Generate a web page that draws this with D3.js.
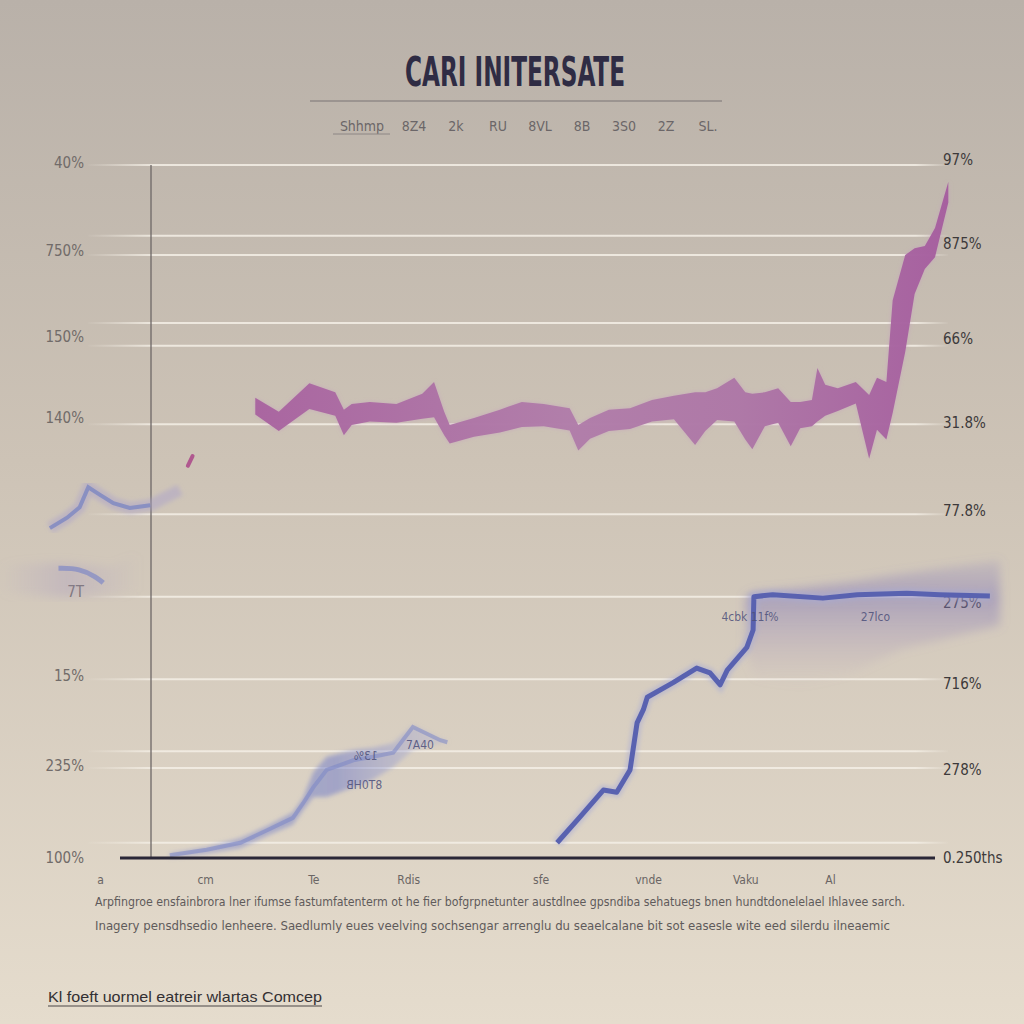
<!DOCTYPE html>
<html>
<head>
<meta charset="utf-8">
<script src="https://cdn.jsdelivr.net/npm/d3@7"></script>
<style>
  body { margin: 0; padding: 0; overflow: hidden; }
  svg { display: block; }
  .narrow { font-family: 'DejaVu Sans', sans-serif; font-stretch: condensed; }
</style>
</head>
<body>
<div id="chart"></div>
<script>
// chart values
var title = 'CARI INITERSATE';
var subtitleItems = ['Shhmp', '8Z4', '2k', 'RU', '8VL', '8B', '3S0', '2Z', 'SL.'];

var gridValues = [100, 89.8, 87.0, 77.2, 73.9, 62.6, 49.6, 37.7, 25.8, 15.4, 13.0, 2.2];

var leftTickValues = [100.4, 87.7, 75.2, 63.5, 38.4, 26.3, 13.3, 0];
var leftTickLabels = ['40%', '750%', '150%', '140%', '7T', '15%', '235%', '100%'];
var rightTickValues = [100.7, 88.7, 75.0, 62.8, 50.1, 36.9, 25.1, 12.7, 0];
var rightTickLabels = ['97%', '875%', '66%', '31.8%', '77.8%', '275%', '716%', '278%', '0.250ths'];

var xTickValues = [-6.5, 6.9, 20.7, 32.8, 49.7, 63.4, 75.8, 86.6];
var xTickLabels = ['a', 'cm', 'Te', 'Rdis', 'sfe', 'vnde', 'Vaku', 'Al'];

// pink ribbon: x, upper edge, lower edge
var pinkX = [13.3, 16.3, 20.2, 23.5, 24.6, 25.6, 27.9, 31.3, 34.6, 36.1, 37.4, 38.1, 41.2, 44.5, 47.3, 50.1, 53.4, 54.5, 56.0, 58.4, 61.1, 63.9, 66.7, 69.4, 70.7, 72.2, 74.4, 75.8, 76.7, 78.3, 80.0, 81.6, 82.8, 84.3, 85.0, 86.0, 87.6, 89.9, 91.6, 92.6, 93.8, 94.6, 96.2, 97.4, 98.7, 100.0, 101.7];
var pinkHigh = [66.4, 64.4, 68.5, 67.2, 64.7, 65.5, 65.8, 65.5, 67.0, 68.7, 64.4, 62.5, 63.5, 64.7, 65.8, 65.5, 64.9, 62.5, 63.5, 64.7, 64.9, 66.1, 66.7, 67.2, 67.2, 67.8, 69.3, 67.2, 67.0, 67.2, 67.8, 65.8, 65.8, 66.1, 70.7, 68.3, 67.8, 68.7, 66.8, 69.3, 68.7, 80.5, 87.0, 88.0, 88.3, 90.9, 97.6];
var pinkLow = [64.0, 61.6, 64.8, 63.8, 61.0, 62.5, 63.0, 62.8, 63.4, 63.6, 61.0, 59.8, 60.8, 61.4, 62.2, 62.3, 61.7, 58.8, 60.5, 61.6, 61.9, 63.0, 63.3, 59.6, 61.6, 63.2, 63.0, 60.4, 59.0, 62.3, 62.8, 59.4, 62.0, 62.3, 63.0, 63.8, 64.5, 65.6, 57.6, 61.8, 60.4, 64.2, 73.0, 81.4, 85.0, 86.7, 94.6];
var pinkSpeck = [[4.7, 56.6], [5.3, 58.0]];

// blue line, right part
var blueX = [51.8, 54.7, 57.7, 59.4, 61.1, 62.0, 62.8, 63.3, 66.6, 69.6, 71.3, 72.6, 73.5, 76.0, 76.8, 76.9, 79.3, 85.7, 90.1, 96.4, 100.6, 107.0];
var blueY = [2.2, 5.9, 9.8, 9.5, 12.7, 19.5, 21.4, 23.2, 25.3, 27.4, 26.7, 25.0, 27.1, 30.4, 32.9, 37.7, 38.0, 37.5, 38.0, 38.2, 38.0, 37.8];
// haze around the plateau
var hazeX = [75.8, 77.0, 82.8, 90.0, 95.5, 108.3];
var hazeHigh = [37.7, 38.4, 39.0, 40.0, 41.0, 43.0];
var hazeLow = [30.0, 26.0, 24.6, 27.0, 30.0, 33.5];

// blue blob, lower left
var blobX = [2.4, 7.1, 11.4, 14.8, 18.1, 19.4, 20.7, 22.4, 25.8, 28.3, 30.9, 33.4, 36.9, 37.8];
var blobHigh = [0.7, 1.6, 2.9, 4.6, 6.6, 8.7, 12.4, 14.6, 15.6, 15.9, 16.6, 19.2, 17.3, 17.0];
var blobLow = [0, 0.6, 1.4, 3.2, 4.8, 6.9, 8.8, 8.8, 10.2, 11.3, 13.1, 15.6, 16.5, 16.6];
var blobLineY = [0.4, 1.2, 2.2, 4.0, 5.8, 7.9, 10.2, 12.7, 14.1, 14.6, 15.2, 18.9, 17.0, 16.7];

// blue smear left of the axis
var smearX = [-12.9, -10.7, -9.1, -8.0, -6.5, -4.8, -2.7, -0.1, 3.7];
var smearY = [47.6, 49.1, 50.6, 53.5, 52.4, 51.2, 50.5, 50.9, 53.1];
var arcX = [-11.8, -9.1, -6.9, -6.1];
var arcY = [41.8, 41.8, 40.5, 39.7];
var smearHazeX = [-19.3, -12.0, -5.0, -1.5];
var smearHazeHigh = [42.3, 42.6, 42.0, 44.0];
var smearHazeLow = [38.2, 37.6, 37.9, 38.5];

var annotations = [
  { x: 76.4, y: 34.2, text: '4cbk 11f%', flip: false },
  { x: 92.4, y: 34.2, text: '27lco', flip: false },
  { x: 27.4, y: 14.2, text: '13%', flip: true },
  { x: 27.2, y: 10.0, text: '8T0HB', flip: true },
  { x: 34.3, y: 15.8, text: '7A40', flip: false }
];

var noteLines = [
  'Arpfingroe ensfainbrora lner ifumse fastumfatenterm ot he fier bofgrpnetunter austdlnee gpsndiba sehatuegs bnen hundtdonelelael Ihlavee sarch.',
  'Inagery pensdhsedio lenheere.  Saedlumly eues veelving sochsengar arrenglu du seaelcalane bit sot easesle wite eed silerdu ilneaemic'
];
var footer = 'Kl foeft uormel eatreir wlartas Comcep';

var width = 1024, height = 1024;

var svg = d3.select('#chart').append('svg')
  .attr('width', width)
  .attr('height', height);

var defs = svg.append('defs');

var bg = defs.append('linearGradient').attr('id', 'bg').attr('x1', 0).attr('y1', 0).attr('x2', 0).attr('y2', 1);
bg.append('stop').attr('offset', '0%').attr('stop-color', '#b9b1a9');
bg.append('stop').attr('offset', '45%').attr('stop-color', '#cdc3b6');
bg.append('stop').attr('offset', '100%').attr('stop-color', '#e5dccd');

var gridGrad = defs.append('linearGradient').attr('id', 'gridGrad')
  .attr('gradientUnits', 'userSpaceOnUse').attr('x1', 85).attr('x2', 950).attr('y1', 0).attr('y2', 0);
gridGrad.append('stop').attr('offset', '0%').attr('stop-color', '#f4efe6').attr('stop-opacity', 0);
gridGrad.append('stop').attr('offset', '8%').attr('stop-color', '#f4efe6').attr('stop-opacity', 0.85);
gridGrad.append('stop').attr('offset', '96%').attr('stop-color', '#f4efe6').attr('stop-opacity', 0.85);
gridGrad.append('stop').attr('offset', '100%').attr('stop-color', '#f4efe6').attr('stop-opacity', 0);

var hazeGrad = defs.append('linearGradient').attr('id', 'hazeGrad').attr('x1', 0).attr('y1', 0).attr('x2', 0).attr('y2', 1);
hazeGrad.append('stop').attr('offset', '0%').attr('stop-color', '#7d74b8').attr('stop-opacity', 0.15);
hazeGrad.append('stop').attr('offset', '30%').attr('stop-color', '#7d74b8').attr('stop-opacity', 0.45);
hazeGrad.append('stop').attr('offset', '100%').attr('stop-color', '#b49ab8').attr('stop-opacity', 0);

var blobGrad = defs.append('linearGradient').attr('id', 'blobGrad').attr('x1', 0).attr('y1', 0).attr('x2', 1).attr('y2', 0);
blobGrad.append('stop').attr('offset', '0%').attr('stop-color', '#8a92cc').attr('stop-opacity', 0.5);
blobGrad.append('stop').attr('offset', '60%').attr('stop-color', '#7d86c8').attr('stop-opacity', 0.6);
blobGrad.append('stop').attr('offset', '100%').attr('stop-color', '#a8acd8').attr('stop-opacity', 0.25);

var smearGrad = defs.append('linearGradient').attr('id', 'smearGrad').attr('x1', 0).attr('y1', 0).attr('x2', 1).attr('y2', 0);
smearGrad.append('stop').attr('offset', '0%').attr('stop-color', '#a99bc0').attr('stop-opacity', 0);
smearGrad.append('stop').attr('offset', '50%').attr('stop-color', '#a99bc0').attr('stop-opacity', 0.35);
smearGrad.append('stop').attr('offset', '100%').attr('stop-color', '#a99bc0').attr('stop-opacity', 0);

var pinkGrad = defs.append('linearGradient').attr('id', 'pinkGrad').attr('x1', 0).attr('y1', 0).attr('x2', 1).attr('y2', 0);
pinkGrad.append('stop').attr('offset', '0%').attr('stop-color', '#a8629f');
pinkGrad.append('stop').attr('offset', '45%').attr('stop-color', '#b07ca9');
pinkGrad.append('stop').attr('offset', '70%').attr('stop-color', '#ad76a6');
pinkGrad.append('stop').attr('offset', '100%').attr('stop-color', '#a55c9e');

defs.append('filter').attr('id', 'soft').append('feGaussianBlur').attr('stdDeviation', 2.2);
defs.append('filter').attr('id', 'softer').append('feGaussianBlur').attr('stdDeviation', 5);

svg.append('rect').attr('width', width).attr('height', height).attr('fill', 'url(#bg)');

var x = d3.scaleLinear().domain([0, 100]).range([151, 935]);
var y = d3.scaleLinear().domain([0, 100]).range([858, 165]);

// title block
svg.append('text')
  .attr('class', 'narrow')
  .attr('x', 515).attr('y', 86)
  .attr('text-anchor', 'middle')
  .attr('font-weight', 'bold')
  .attr('font-size', 40)
  .attr('textLength', 220)
  .attr('lengthAdjust', 'spacingAndGlyphs')
  .attr('fill', '#2f2c44')
  .text(title);

svg.append('line')
  .attr('x1', 310).attr('x2', 722).attr('y1', 101).attr('y2', 101)
  .attr('stroke', '#7b7574').attr('stroke-width', 1.2);

var subX = d3.scalePoint().domain(subtitleItems).range([362, 698]);
svg.append('g').selectAll('text')
  .data(subtitleItems)
  .enter().append('text')
  .attr('class', 'narrow')
  .attr('x', d => subX(d) + (d === 'Shhmp' ? 0 : 10))
  .attr('y', 131)
  .attr('text-anchor', 'middle')
  .attr('font-size', 14)
  .attr('fill', '#6b6668')
  .text(d => d);
svg.append('line')
  .attr('x1', 333).attr('x2', 390).attr('y1', 134).attr('y2', 134)
  .attr('stroke', '#8c8684').attr('stroke-width', 1);

// grid
svg.append('g').selectAll('line')
  .data(gridValues)
  .enter().append('line')
  .attr('x1', 88).attr('x2', 948)
  .attr('y1', d => y(d)).attr('y2', d => y(d))
  .attr('stroke', 'url(#gridGrad)')
  .attr('stroke-width', 2);

// left axis
var leftAxis = d3.axisLeft(y)
  .tickValues(leftTickValues)
  .tickSize(0)
  .tickPadding(0)
  .tickFormat((d, i) => leftTickLabels[i]);
var gl = svg.append('g').attr('transform', 'translate(84,0)').call(leftAxis);
gl.select('.domain').remove();
gl.selectAll('text')
  .attr('class', 'narrow')
  .attr('font-size', 15)
  .attr('fill', '#716b69');

// right axis
var rightAxis = d3.axisRight(y)
  .tickValues(rightTickValues)
  .tickSize(0)
  .tickPadding(0)
  .tickFormat((d, i) => rightTickLabels[i]);
var gr = svg.append('g').attr('transform', 'translate(943,0)').call(rightAxis);
gr.select('.domain').remove();
gr.selectAll('text')
  .attr('class', 'narrow')
  .attr('font-size', 15)
  .attr('fill', '#3d3a3b');

// vertical axis line
svg.append('line')
  .attr('x1', x(0)).attr('x2', x(0))
  .attr('y1', y(100)).attr('y2', y(0))
  .attr('stroke', '#6d6766').attr('stroke-width', 1.3);

// left smear
var smearHaze = d3.area()
  .x(d => x(d[0])).y0(d => y(d[1])).y1(d => y(d[2]));
svg.append('path')
  .datum(smearHazeX.map((v, i) => [v, smearHazeLow[i], smearHazeHigh[i]]))
  .attr('d', smearHaze)
  .attr('fill', 'url(#smearGrad)')
  .attr('filter', 'url(#softer)');

var line = d3.line().x(d => x(d[0])).y(d => y(d[1]));
svg.append('path')
  .datum(smearX.map((v, i) => [v, smearY[i]]))
  .attr('d', line)
  .attr('fill', 'none')
  .attr('stroke', '#a9a0cc')
  .attr('stroke-width', 12)
  .attr('stroke-opacity', 0.45)
  .attr('filter', 'url(#soft)');
svg.append('path')
  .datum(smearX.slice(0, 8).map((v, i) => [v, smearY[i]]))
  .attr('d', line)
  .attr('fill', 'none')
  .attr('stroke', '#7480c2')
  .attr('stroke-width', 4)
  .attr('stroke-opacity', 0.7);
svg.append('path')
  .datum(arcX.map((v, i) => [v, arcY[i]]))
  .attr('d', line.curve(d3.curveBasis))
  .attr('fill', 'none')
  .attr('stroke', '#7a84c6')
  .attr('stroke-width', 5)
  .attr('stroke-opacity', 0.65);
line.curve(d3.curveLinear);

svg.append('path')
  .datum(pinkSpeck)
  .attr('d', line)
  .attr('stroke', '#b0588f')
  .attr('stroke-width', 4)
  .attr('stroke-linecap', 'round');

// pink ribbon
var ribbon = d3.area()
  .x(d => x(d[0])).y0(d => y(d[1])).y1(d => y(d[2]));
var pinkData = pinkX.map((v, i) => [v, pinkLow[i], pinkHigh[i]]);
svg.append('path')
  .datum(pinkData)
  .attr('d', ribbon)
  .attr('fill', '#c49ac0')
  .attr('fill-opacity', 0.55)
  .attr('filter', 'url(#soft)');
svg.append('path')
  .datum(pinkData)
  .attr('d', ribbon)
  .attr('fill', 'url(#pinkGrad)')
  .attr('fill-opacity', 0.95);

// blue haze and line
svg.append('path')
  .datum(hazeX.map((v, i) => [v, hazeLow[i], hazeHigh[i]]))
  .attr('d', ribbon)
  .attr('fill', 'url(#hazeGrad)')
  .attr('filter', 'url(#softer)');

var blueData = blueX.map((v, i) => [v, blueY[i]]);
svg.append('path')
  .datum(blueData)
  .attr('d', line)
  .attr('fill', 'none')
  .attr('stroke', '#a7acd6')
  .attr('stroke-width', 10)
  .attr('stroke-opacity', 0.55)
  .attr('filter', 'url(#soft)');
svg.append('path')
  .datum(blueData)
  .attr('d', line)
  .attr('fill', 'none')
  .attr('stroke', '#5962b0')
  .attr('stroke-width', 5)
  .attr('stroke-linejoin', 'round');

// blue blob
svg.append('path')
  .datum(blobX.map((v, i) => [v, blobLow[i], blobHigh[i]]))
  .attr('d', ribbon)
  .attr('fill', 'url(#blobGrad)')
  .attr('filter', 'url(#soft)');
svg.append('path')
  .datum(blobX.map((v, i) => [v, blobLineY[i]]))
  .attr('d', line)
  .attr('fill', 'none')
  .attr('stroke', '#7c86c6')
  .attr('stroke-width', 4)
  .attr('stroke-opacity', 0.55);

svg.append('g').selectAll('text')
  .data(annotations)
  .enter().append('text')
  .attr('class', 'narrow')
  .attr('transform', d => 'translate(' + x(d.x) + ',' + y(d.y) + ')' + (d.flip ? ' scale(-1,1)' : ''))
  .attr('text-anchor', 'middle')
  .attr('font-size', 12)
  .attr('fill', '#4c4f7a')
  .attr('fill-opacity', 0.85)
  .text(d => d.text);

// baseline
svg.append('line')
  .attr('x1', 120).attr('x2', 935)
  .attr('y1', y(0)).attr('y2', y(0))
  .attr('stroke', '#2a2737').attr('stroke-width', 3);

// x labels
var xAxis = d3.axisBottom(x)
  .tickValues(xTickValues)
  .tickSize(0)
  .tickPadding(0)
  .tickFormat((d, i) => xTickLabels[i]);
var gx = svg.append('g').attr('transform', 'translate(0,875)').call(xAxis);
gx.select('.domain').remove();
gx.selectAll('text')
  .attr('class', 'narrow')
  .attr('font-size', 12)
  .attr('fill', '#6a6564');

// footnote paragraph
svg.append('g').selectAll('text')
  .data(noteLines)
  .enter().append('text')
  .attr('class', 'narrow')
  .attr('x', 95)
  .attr('y', (d, i) => 906 + i * 24)
  .attr('font-size', 12)
  .attr('textLength', (d, i) => i === 0 ? 810 : 795)
  .attr('lengthAdjust', 'spacingAndGlyphs')
  .attr('fill', '#5f5b5b')
  .text(d => d);

svg.append('text')
  .attr('x', 48).attr('y', 1002)
  .attr('font-family', "'Liberation Sans', Arial, sans-serif")
  .attr('font-size', 15)
  .attr('textLength', 274)
  .attr('lengthAdjust', 'spacingAndGlyphs')
  .attr('fill', '#333033')
  .text(footer);
svg.append('line')
  .attr('x1', 48).attr('x2', 322).attr('y1', 1006).attr('y2', 1006)
  .attr('stroke', '#4a4646').attr('stroke-width', 1.2);
</script>
</body>
</html>
